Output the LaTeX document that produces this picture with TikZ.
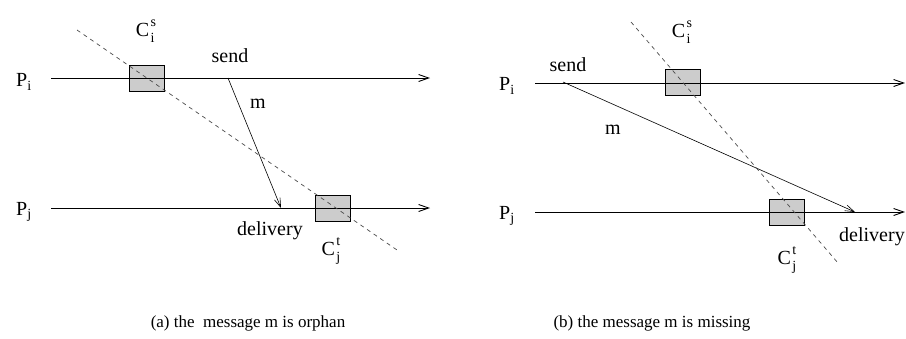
\documentclass[tikz,border=0pt]{standalone}
\usepackage{fontspec}
\setmainfont{Liberation Serif}
\usetikzlibrary{positioning, arrows.meta}
\definecolor{boxgray}{HTML}{CCCCCC}
\newcommand{\ckname}[2]{C\kern1.5pt\raisebox{-6pt}{\fontsize{14}{14}\selectfont\begin{tabular}[b]{@{}l@{}}#1\\[2pt]#2\end{tabular}}}

\begin{document}
\begin{tikzpicture}[
        x=1pt, y=-1pt,
        font=\fontsize{20}{24}\selectfont,
        label/.style={inner sep=0pt},
        caption/.style={inner sep=0pt, font=\fontsize{17}{20}\selectfont},
        ckpt/.style={rectangle, draw, fill=boxgray, line width=0.8pt, minimum width=35pt, minimum height=26pt, inner sep=0pt},
        procline/.style={-{Straight Barb[length=10pt, width=7pt]}, line width=0.9pt},
        msg/.style={-{Straight Barb[length=9pt, width=6pt]}, line width=0.6pt},
        cut/.style={dashed, dash pattern=on 4pt off 4pt, line width=0.7pt, black!70}
    ]
    \useasboundingbox (0,0) rectangle (906,338);

    % (a) orphan message
    \coordinate (pia) at (51,78);
    \coordinate (piaend) at (430,78);
    \coordinate (pja) at (51,208);
    \coordinate (pjaend) at (430,208);
    \coordinate (cuta) at (77,30);
    \coordinate (cutaend) at (397,250);
    \coordinate (senda) at (228,78);
    \coordinate (delia) at (281,208);

    \node (Pia) [label] at (24,82) {P$_{\mathrm{i}}$};
    \node (Pja) [label] at (24,212) {P$_{\mathrm{j}}$};
    \node (cisa) [ckpt] at (147,78) {};
    \node (cjta) [ckpt] at (332.5,208) {};
    \node (cisalab) [label] at (146,32) {\ckname{s}{i}};
    \node (cjtalab) [label] at (331,251) {\ckname{t}{j}};
    \node (sendalab) [label] at (230,56) {send};
    \node (malab) [label] at (258,104) {m};
    \node (delialab) [label] at (270,231) {delivery};
    \node (capa) [caption] at (248,323) {(a) the\ \ message m is orphan};

    % (b) missing message
    \coordinate (pib) at (535,83);
    \coordinate (pibend) at (905,83);
    \coordinate (pjb) at (535,212);
    \coordinate (pjbend) at (905,212);
    \coordinate (cutb) at (631,22);
    \coordinate (cutbend) at (838,263);
    \coordinate (sendb) at (563,82);
    \coordinate (delib) at (855,212);

    \node (Pib) [label] at (507,86) {P$_{\mathrm{i}}$};
    \node (Pjb) [label] at (507,216) {P$_{\mathrm{j}}$};
    \node (cisb) [ckpt] at (683,82) {};
    \node (cjtb) [ckpt] at (786.5,212) {};
    \node (cisblab) [label] at (682,33) {\ckname{s}{i}};
    \node (cjtblab) [label] at (787,260) {\ckname{t}{j}};
    \node (sendblab) [label] at (568,65) {send};
    \node (mblab) [label] at (613,130) {m};
    \node (deliblab) [label] at (872,237) {delivery};
    \node (capb) [caption] at (652,323) {(b) the message m is missing};

    % Arrows
    \draw [procline] (pia) -- (piaend);
    \draw [procline] (pja) -- (pjaend);
    \draw [procline] (pib) -- (pibend);
    \draw [procline] (pjb) -- (pjbend);
    \draw [msg] (senda) -- (delia);
    \draw [msg] (sendb) -- (delib);
    \draw [cut] (cuta) -- (cutaend);
    \draw [cut] (cutb) -- (cutbend);

\end{tikzpicture}
\end{document}
